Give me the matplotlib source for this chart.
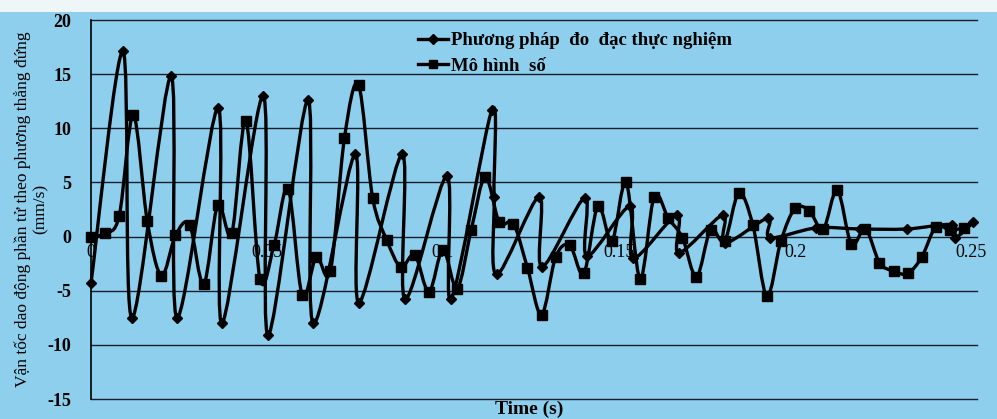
import matplotlib
matplotlib.use("Agg")
import matplotlib.pyplot as plt
from matplotlib.patches import Rectangle, PathPatch
from matplotlib.path import Path
from matplotlib.lines import Line2D

# ---- data ----
t_meas = [0.0, 0.0091, 0.0116, 0.0227, 0.0244, 0.0361, 0.0372, 0.0489, 0.0503,
          0.0616, 0.0631, 0.0750, 0.0761, 0.0884, 0.0892, 0.1011, 0.1023, 0.1139,
          0.1145, 0.1153, 0.1273, 0.1281, 0.1403, 0.1409, 0.1531, 0.1540, 0.1665,
          0.1670, 0.1795, 0.1801, 0.1923, 0.1929, 0.2060, 0.2185, 0.2318, 0.2446,
          0.2455, 0.2506]
v_meas = [-4.3, 17.1, -7.5, 14.8, -7.5, 11.9, -8.0, 13.0, -9.1,
          12.6, -8.0, 7.6, -6.1, 7.6, -5.8, 5.6, -5.8, 11.7,
          3.7, -3.5, 3.7, -2.8, 3.6, -1.8, 2.8, -2.0, 2.0,
          -1.5, 2.0, -0.6, 1.7, -0.1, 0.8, 0.7, 0.7, 1.1,
          -0.1, 1.3]

t_model = [0.000, 0.004, 0.008, 0.012, 0.016, 0.020, 0.024, 0.028, 0.032, 0.036,
           0.040, 0.044, 0.048, 0.052, 0.056, 0.060, 0.064, 0.068, 0.072, 0.076,
           0.080, 0.084, 0.088, 0.092, 0.096, 0.100, 0.104, 0.108, 0.112, 0.116,
           0.120, 0.124, 0.128, 0.132, 0.136, 0.140, 0.144, 0.148, 0.152, 0.156,
           0.160, 0.164, 0.168, 0.172, 0.176, 0.180, 0.184, 0.188, 0.192, 0.196,
           0.200, 0.204, 0.208, 0.212, 0.216, 0.220, 0.224, 0.228, 0.232, 0.236,
           0.240, 0.244, 0.248]
v_model = [0.0, 0.3, 1.9, 11.2, 1.4, -3.6, 0.1, 1.1, -4.4, 2.9,
           0.3, 10.7, -3.9, -0.8, 4.4, -5.4, -1.9, -3.2, 9.1, 14.0,
           3.6, -0.3, -2.8, -1.7, -5.1, -1.2, -4.8, 0.6, 5.5, 1.3,
           1.2, -2.9, -7.2, -1.9, -0.8, -3.4, 2.8, -0.4, 5.0, -3.9,
           3.7, 1.7, -0.1, -3.7, 0.6, -0.4, 4.0, 1.1, -5.5, -0.4,
           2.6, 2.4, 0.7, 4.3, -0.7, 0.7, -2.4, -3.2, -3.4, -1.9,
           0.9, 0.6, 0.8]

x_ticks = [0, 0.05, 0.1, 0.15, 0.2, 0.25]
x_tick_labels = ["0", "0.05", "0.1", "0.15", "0.2", "0.25"]
y_ticks = [-15, -10, -5, 0, 5, 10, 15, 20]

label_meas = "Phương pháp  đo  đạc thực nghiệm"
label_model = "Mô hình  số"
y_label = "Vận tốc dao động phần tử theo phương thẳng đứng\n(mm/s)"
x_label = "Time (s)"

SERIF = ["Liberation Serif", "DejaVu Serif"]
BG = "#8dcfec"


def smooth_path(xs, ys):
    """Excel-like smoothed line: Catmull-Rom segments as cubic Bezier curves."""
    n = len(xs)
    pts = list(zip(xs, ys))
    verts = [pts[0]]
    codes = [Path.MOVETO]
    for i in range(n - 1):
        p0 = pts[i - 1] if i > 0 else pts[i]
        p1 = pts[i]
        p2 = pts[i + 1]
        p3 = pts[i + 2] if i + 2 < n else pts[i + 1]
        c1 = (p1[0] + (p2[0] - p0[0]) / 6, p1[1] + (p2[1] - p0[1]) / 6)
        c2 = (p2[0] - (p3[0] - p1[0]) / 6, p2[1] - (p3[1] - p1[1]) / 6)
        verts += [c1, c2, p2]
        codes += [Path.CURVE4] * 3
    return Path(verts, codes)


fig = plt.figure(figsize=(9.97, 4.19), dpi=100, facecolor=BG)
fig.patches.append(Rectangle((0, 1 - 12 / 419), 1, 12 / 419, transform=fig.transFigure,
                             facecolor="#eef6f8", edgecolor="none", zorder=0))
ax = fig.add_axes([91 / 997, 1 - 399 / 419, 886 / 997, 379 / 419])
ax.set_facecolor(BG)

LW = 2.4
for xs, ys in [(t_meas, v_meas), (t_model, v_model)]:
    ax.add_patch(PathPatch(smooth_path(xs, ys), facecolor="none", edgecolor="black",
                           lw=LW, zorder=3, clip_on=False, capstyle="round",
                           joinstyle="round"))
ax.plot(t_meas, v_meas, linestyle="none", color="black", marker="D", ms=5.5,
        zorder=4, clip_on=False)
ax.plot(t_model, v_model, linestyle="none", color="black", marker="s", ms=7.5,
        zorder=4, clip_on=False)

ax.set_xlim(0, 0.2517)
ax.set_ylim(-15, 20)

for y in y_ticks:
    ax.axhline(y, color="#1c1c2c", lw=1.0, zorder=1, clip_on=False)

for s in ["top", "right"]:
    ax.spines[s].set_visible(False)
ax.spines["left"].set_color("black")
ax.spines["left"].set_linewidth(1.2)
ax.spines["bottom"].set_position(("data", 0))
ax.spines["bottom"].set_visible(False)

ax.set_xticks(x_ticks)
ax.set_xticklabels(x_tick_labels, fontfamily=SERIF, fontsize=13)
ax.set_yticks(y_ticks)
ax.set_yticklabels([str(v) for v in y_ticks], fontfamily=SERIF, fontsize=13,
                   fontweight="bold")
ax.tick_params(axis="x", length=0, pad=5)
ax.tick_params(axis="y", length=0, pad=14)

fig.text(31 / 997, 1 - 209 / 419, y_label, fontfamily=SERIF, fontsize=12.5,
         rotation=90, ha="center", va="center", linespacing=1.15,
         multialignment="center")
fig.text(529 / 997, 1 - 409 / 419, x_label, fontfamily=SERIF, fontsize=14,
         fontweight="bold", ha="center", va="center")

handles = [Line2D([], [], color="black", lw=2.4, marker="D", ms=5),
           Line2D([], [], color="black", lw=2.4, marker="s", ms=6)]
leg = ax.legend(handles, [label_meas, label_model], loc="upper left",
                bbox_to_anchor=(418 / 997, 1 - 32 / 419),
                bbox_transform=fig.transFigure, frameon=False, borderpad=0,
                borderaxespad=0, handlelength=1.6, handletextpad=0.15,
                labelspacing=0.45,
                prop={"family": SERIF, "size": 13.5, "weight": "bold"})

fig.savefig("out.png", dpi=100, facecolor=BG)
